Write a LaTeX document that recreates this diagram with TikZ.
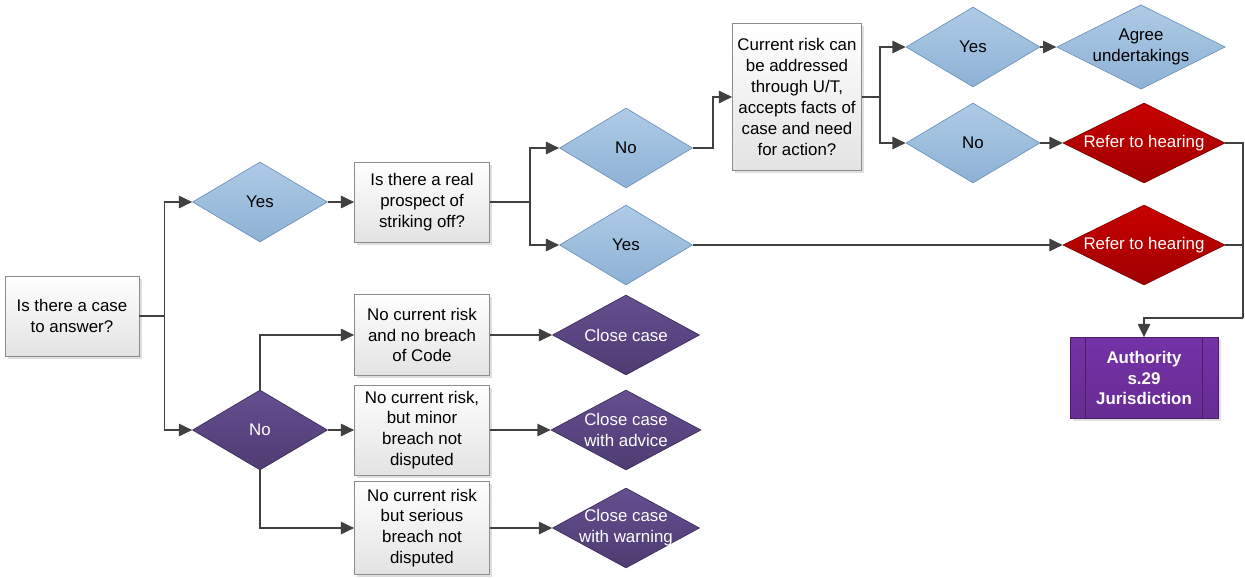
\documentclass[tikz,border=0pt]{standalone}
\usepackage{fontspec}
\setmainfont{Liberation Sans}
\usetikzlibrary{shapes.geometric,arrows.meta,shadows}
\definecolor{lineg}{HTML}{404040}
\definecolor{bluetop}{HTML}{AECBE6}
\definecolor{bluebot}{HTML}{8DB1D5}
\definecolor{blueedge}{HTML}{7094BC}
\definecolor{purptop}{HTML}{654F90}
\definecolor{purpbot}{HTML}{4E3C72}
\definecolor{redtop}{HTML}{C80000}
\definecolor{redbot}{HTML}{A00000}
\definecolor{authtop}{HTML}{7432A6}
\definecolor{authbot}{HTML}{682C94}
\begin{document}
\begin{tikzpicture}[x=0.02cm,y=-0.02cm,
	font=\fontsize{9.6}{11.9}\selectfont,
	>={Triangle[length=7.5pt,width=7pt]},
	box/.style={rectangle,draw=gray!90,top color=white,bottom color=black!11,
		align=center,inner sep=0pt,
		drop shadow={shadow xshift=1.5pt,shadow yshift=-1.5pt,opacity=0.25,fill=gray}},
	dia/.style={diamond,aspect=2,inner sep=0pt,align=center,minimum height=1.6cm},
	diablue/.style={dia,draw=blueedge,top color=bluetop,bottom color=bluebot},
	diapurp/.style={dia,draw=purpbot!80!black,top color=purptop,bottom color=purpbot,text=white},
	diared/.style={dia,draw=redbot!80!black,top color=redtop,bottom color=redbot,text=white},
	authbox/.style={rectangle,draw=authbot!70!black,top color=authtop,bottom color=authbot,
		text=white,font=\fontsize{9.6}{11.9}\selectfont\bfseries,align=center,
		minimum width=2.96cm,minimum height=1.62cm,
		drop shadow={shadow xshift=1.5pt,shadow yshift=-1.5pt,opacity=0.25,fill=gray}},
	arr/.style={->,draw=lineg,line width=0.9pt},
	conn/.style={draw=lineg,line width=0.9pt}]
	\useasboundingbox (0,0) rectangle (1245,578);
	%Khung dau
	\node[box,minimum width=2.68cm,minimum height=1.6cm] (case) at (72,316) {Is there a case\\to answer?};
	%Nhanh Yes / No
	\node[diablue,minimum width=2.7cm] (yes1) at (260,202) {Yes};
	\node[diapurp,minimum width=2.7cm] (no1) at (260,430) {No};
	\draw[arr] (case.east) -- ++(25,0) |- (yes1.west);
	\draw[arr] (case.east) -- ++(25,0) |- (no1.west);
	%Khung prospect
	\node[box,minimum width=2.7cm,minimum height=1.6cm] (prospect) at (422,202) {Is there a real\\prospect of\\striking off?};
	\draw[arr] (yes1.east) -- (prospect.west);
	\node[diablue,minimum width=2.66cm] (no2) at (626,148) {No};
	\node[diablue,minimum width=2.66cm] (yes2) at (626,245) {Yes};
	\draw[arr] (prospect.east) -- ++(40,0) |- (no2.west);
	\draw[arr] (prospect.east) -- ++(40,0) |- (yes2.west);
	%Khung U/T
	\node[box,minimum width=2.58cm,minimum height=2.94cm] (ut) at (797,97) {Current risk can\\be addressed\\through U/T,\\accepts facts of\\case and need\\for action?};
	\draw[arr] (no2.east) -- ++(20,0) |- (ut.west);
	\node[diablue,minimum width=2.68cm] (yes3) at (973,47) {Yes};
	\node[diablue,minimum width=2.68cm] (no3) at (973,143) {No};
	\draw[arr] (ut.east) -- ++(18,0) |- (yes3.west);
	\draw[arr] (ut.east) -- ++(18,0) |- (no3.west);
	%Ket qua
	\node[diablue,minimum width=3.24cm] (agree) at (1141,47) {Agree\\undertakings};
	\node[diared,minimum width=3.24cm] (red1) at (1144,143) {Refer to hearing};
	\node[diared,minimum width=3.24cm] (red2) at (1144,245) {Refer to hearing};
	\draw[arr] (yes3.east) -- (agree.west);
	\draw[arr] (no3.east) -- (red1.west);
	\draw[arr] (yes2.east) -- (red2.west);
	%Authority
	\node[authbox] (auth) at (1144,378) {Authority\\s.29\\Jurisdiction};
	\draw[authbot!70!black] ([xshift=0.32cm]auth.north west) -- ([xshift=0.32cm]auth.south west);
	\draw[authbot!70!black] ([xshift=-0.32cm]auth.north east) -- ([xshift=-0.32cm]auth.south east);
	\coordinate (jr) at (1243,318);
	\draw[conn] (red1.east) -| (jr);
	\draw[conn] (red2.east) -| (jr);
	\draw[arr] (jr) -| (auth.north);
	%Nhanh No
	\node[box,minimum width=2.7cm,minimum height=1.62cm] (b1) at (422,335) {No current risk\\and no breach\\of Code};
	\node[box,minimum width=2.7cm,minimum height=1.8cm] (b2) at (422,430) {No current risk,\\but minor\\breach not\\disputed};
	\node[box,minimum width=2.7cm,minimum height=1.86cm] (b3) at (422,528) {No current risk\\but serious\\breach not\\disputed};
	\draw[arr] (no1.north) |- (b1.west);
	\draw[arr] (no1.east) -- (b2.west);
	\draw[arr] (no1.south) |- (b3.west);
	\node[diapurp,minimum width=2.94cm] (close1) at (626,335) {Close case};
	\node[diapurp,minimum width=2.94cm] (close2) at (626,430) {Close case\\with advice};
	\node[diapurp,minimum width=2.94cm] (close3) at (626,528) {};
	\node[text=white,align=center,inner sep=0pt] (close3txt) at (close3) {Close case\\with warning};
	\draw[arr] (b1.east) -- (close1.west);
	\draw[arr] (b2.east) -- (close2.west);
	\draw[arr] (b3.east) -- (close3.west);
\end{tikzpicture}
\end{document}
